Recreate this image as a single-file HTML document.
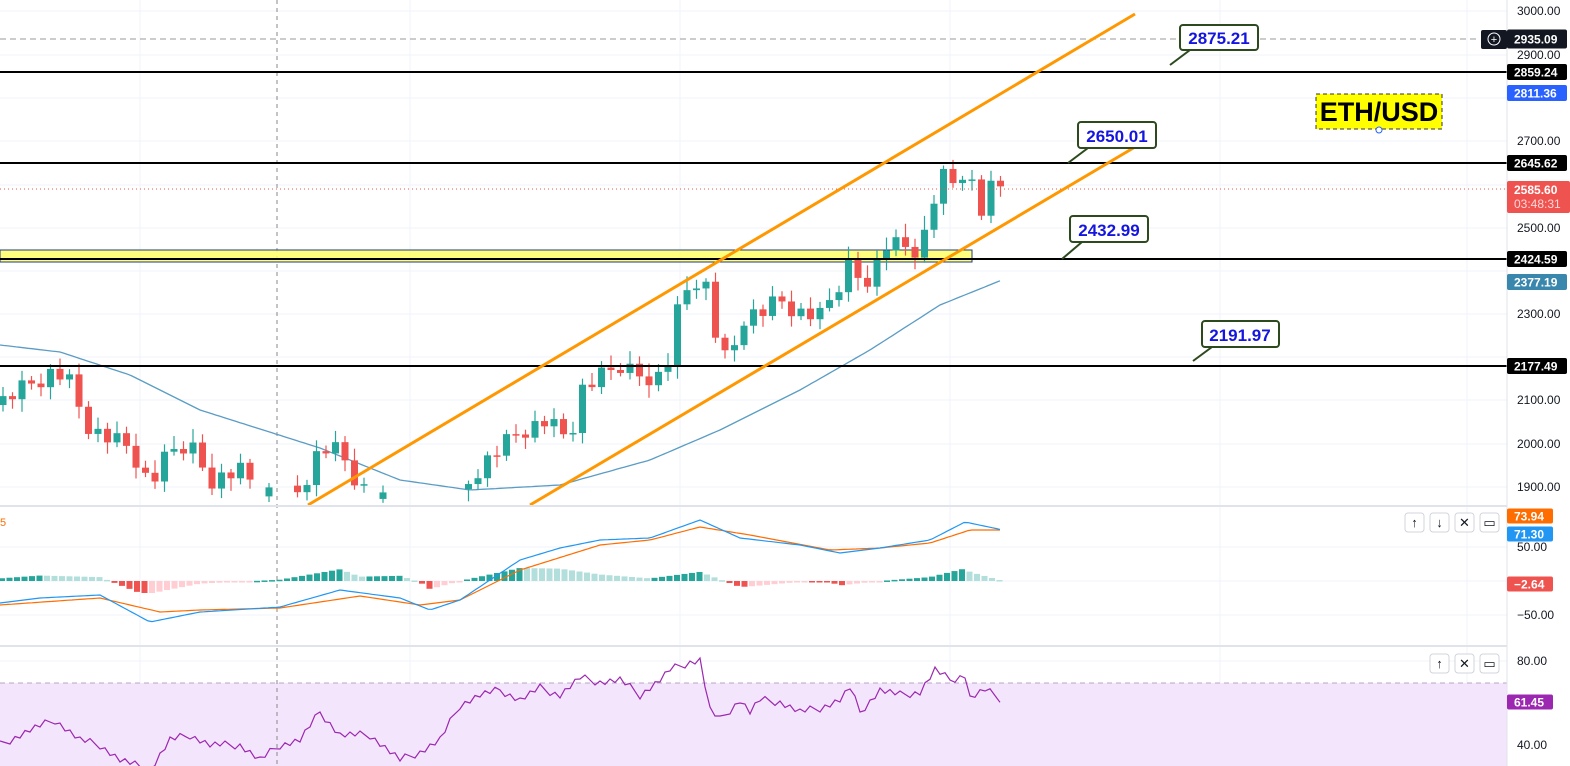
<!DOCTYPE html>
<html><head><meta charset="utf-8"><style>
body{margin:0;background:#fff;width:1570px;height:766px;overflow:hidden;font-family:"Liberation Sans",sans-serif}
svg{display:block}
</style></head><body>
<svg id="s" width="1570" height="766" xmlns="http://www.w3.org/2000/svg" font-family="Liberation Sans, sans-serif">
<rect width="1570" height="766" fill="#fff"/>
<g id="grid" stroke="#f0f3fa" stroke-width="1"></g>
<rect x="0" y="683" width="1507" height="83" fill="#f3e5fc"/>
<line x1="0" y1="683" x2="1507" y2="683" stroke="#b9a5c4" stroke-dasharray="5,4"/>
<line x1="277" y1="0" x2="277" y2="766" stroke="#888" stroke-dasharray="4,4" stroke-width="1"/>
<rect x="0" y="250" width="972" height="12" fill="#ffff66" fill-opacity="0.85" stroke="#1e3a8a" stroke-width="1"/>
<g id="ma"></g>
<g id="candles"></g>
<line x1="0" y1="72" x2="1507" y2="72" stroke="#000" stroke-width="2"/>
<line x1="0" y1="163" x2="1507" y2="163" stroke="#000" stroke-width="2"/>
<line x1="0" y1="259" x2="1507" y2="259" stroke="#000" stroke-width="2"/>
<line x1="0" y1="366" x2="1507" y2="366" stroke="#000" stroke-width="2"/>
<line x1="0" y1="39" x2="1480" y2="39" stroke="#999" stroke-dasharray="6,4"/>
<line x1="0" y1="189" x2="1507" y2="189" stroke="#ef5350" stroke-dasharray="1,3"/>
<line x1="308" y1="505" x2="1135" y2="14" stroke="#ff9800" stroke-width="3"/>
<line x1="530" y1="505" x2="1135" y2="147" stroke="#ff9800" stroke-width="3"/>
<rect x="0" y="505" width="1507" height="2" fill="#e0e3eb"/>
<rect x="0" y="645" width="1570" height="2" fill="#e0e3eb"/>
<g id="macd"></g>
<g id="rsi"></g>
<g font-weight="bold" font-size="17" fill="#1515e0">
<path d="M1170 65 L1190 50 L1200 50" stroke="#2d4a1e" stroke-width="2" fill="none"/>
<rect x="1180" y="25" width="78" height="25" rx="3" fill="#fff" stroke="#2d4a1e" stroke-width="2"/><text x="1219" y="44" text-anchor="middle">2875.21</text>
<path d="M1068 163 L1088 148 L1098 148" stroke="#2d4a1e" stroke-width="2" fill="none"/>
<rect x="1078" y="122" width="78" height="26" rx="3" fill="#fff" stroke="#2d4a1e" stroke-width="2"/><text x="1117" y="142" text-anchor="middle">2650.01</text>
<path d="M1062 259 L1082 242 L1092 242" stroke="#2d4a1e" stroke-width="2" fill="none"/>
<rect x="1070" y="216" width="78" height="26" rx="3" fill="#fff" stroke="#2d4a1e" stroke-width="2"/><text x="1109" y="236" text-anchor="middle">2432.99</text>
<path d="M1193 361 L1212 347 L1222 347" stroke="#2d4a1e" stroke-width="2" fill="none"/>
<rect x="1202" y="321" width="77" height="26" rx="3" fill="#fff" stroke="#2d4a1e" stroke-width="2"/><text x="1240" y="341" text-anchor="middle">2191.97</text>
</g>
<rect x="1316" y="94" width="126" height="35" fill="#ffff00" stroke="#333" stroke-dasharray="4,3"/>
<text x="1379" y="121" text-anchor="middle" font-size="27" font-weight="bold" fill="#000">ETH/USD</text>
<circle cx="1379" cy="130" r="3" fill="#fff" stroke="#2962ff"/>
<rect x="1507" y="0" width="63" height="766" fill="#fff"/>
<line x1="1507" y1="0" x2="1507" y2="766" stroke="#e0e3eb"/>
<g id="axis" font-size="12" fill="#131722"></g>
</svg>
<script>
const NS="http://www.w3.org/2000/svg";
function el(p,t,a,txt){const e=document.createElementNS(NS,t);for(const k in a)e.setAttribute(k,a[k]);if(txt!=null)e.textContent=txt;document.getElementById(p).appendChild(e);return e;}
function interp(pts,x){for(let i=0;i<pts.length-1;i++){if(x>=pts[i][0]&&x<=pts[i+1][0]){const t=(x-pts[i][0])/(pts[i+1][0]-pts[i][0]);return pts[i][1]+t*(pts[i+1][1]-pts[i][1]);}}return pts[pts.length-1][1];}
const Y=p=>11+(3000-p)*0.433;
[11,55,98,141,185,228,271,314,357,400,444,487,547,581,615,661,703,745].forEach(y=>el('grid','line',{x1:0,y1:y,x2:1507,y2:y}));
[140,410,680,950,1220,1467].forEach(x=>el('grid','line',{x1:x,y1:0,x2:x,y2:766}));
const ma=[[0,345],[60,352],[130,375],[200,410],[320,448],[400,480],[470,490],[560,485],[650,460],[720,430],[800,390],[870,350],[940,305],[1002,280]];
let d="";for(let x=0;x<=1002;x+=4)d+=(x?"L":"M")+x+" "+interp(ma,x).toFixed(1);
el('ma','path',{d:d,stroke:"#5b9cc4","stroke-width":1.3,fill:"none"});
const cl=[[0,2100],[30,2140],[55,2170],[70,2140],[85,2050],[100,2020],[130,1990],[150,1900],[170,1980],[190,2000],[210,1920],[240,1940],[260,1900],[280,1880],[300,1890],[320,1990],[340,1980],[360,1900],[380,1870],[400,1830],[430,1820],[460,1880],[480,1950],[500,1990],[520,2030],[545,2050],[570,2010],[580,2120],[600,2150],[620,2180],[640,2160],[660,2160],[670,2200],[680,2340],[700,2390],[710,2350],[720,2180],[735,2230],[745,2300],[760,2300],[780,2330],[800,2300],[820,2290],[840,2370],[850,2420],[860,2380],[870,2390],[885,2460],[900,2460],[920,2450],[930,2530],[940,2620],[955,2600],[970,2660],[975,2510],[985,2550],[995,2610],[1003,2585]];
let prev=2090,k=0;
for(let x=3;x<=1003;x+=9.5){k++;let c=interp(cl,x)+((k*37)%23-11)*2.2;let o=prev;const up=c>=o;
 const hi=Math.max(o,c)+8+(k*13)%25,lo=Math.min(o,c)-8-(k*7)%22;
 const col=up?"#26a69a":"#ef5350";
 if(Y(lo)<505){el('candles','line',{x1:x,y1:Y(hi),x2:x,y2:Math.min(Y(lo),505),stroke:col,"stroke-width":1.2});
 const t=Y(Math.max(o,c)),b=Math.min(Y(Math.min(o,c)),505);el('candles','rect',{x:x-3.5,y:t,width:7,height:Math.max(1.5,b-t),fill:col});}
 prev=c;}
const bl=[[0,603],[40,598],[100,595],[150,622],[200,612],[280,607],[340,590],[400,598],[430,610],[460,600],[520,560],[560,548],[600,540],[650,538],[700,520],[740,538],[800,545],[840,553],[880,548],[930,540],[965,522],[1003,530]];
const or=[[0,605],[100,598],[160,612],[200,610],[280,608],[360,596],[420,605],[460,600],[520,570],[600,545],[650,540],[700,527],[750,535],[830,550],[880,548],[930,543],[970,530],[1003,530]];
let ph=0;
for(let x=2;x<=1003;x+=7.5){let h=(interp(or,x)-interp(bl,x))*1.3;h=Math.max(-12,Math.min(16,h));const inc=h>=ph;
 const col=h>=0?(inc?"#26a69a":"#b2dfdb"):(inc?"#ffcdd2":"#ef5350");
 el('macd','rect',{x:x-3,y:h>=0?581-h:581,width:6,height:Math.max(1.5,Math.abs(h)),fill:col});ph=h;}
let db="",dor="";for(let x=0;x<=1003;x+=4){db+=(x?"L":"M")+x+" "+interp(bl,x).toFixed(1);dor+=(x?"L":"M")+x+" "+interp(or,x).toFixed(1);}
el('macd','path',{d:dor,stroke:"#ff6d00","stroke-width":1.2,fill:"none"});
el('macd','path',{d:db,stroke:"#2196f3","stroke-width":1.2,fill:"none"});
el('macd','text',{x:0,y:526,"font-size":11,fill:"#ff6d00"},"5");
const rs=[[0,745],[30,730],[55,720],[80,740],[100,745],[120,760],[150,770],[170,740],[190,735],[210,745],[240,745],[260,760],[280,745],[300,740],[320,712],[340,735],[370,735],[400,760],[420,752],[440,740],[460,705],[480,695],[500,690],[520,700],[540,688],[560,695],[580,678],[600,682],[620,680],[640,695],[660,680],[670,670],[690,662],[700,660],[710,710],[720,720],[740,700],[750,712],[760,700],[780,702],[800,712],[820,708],[840,700],[850,688],[860,712],[880,690],[900,695],[920,692],[935,670],[950,680],[965,675],[970,698],[985,690],[1003,700]];
let dr="";for(let x=0;x<=1003;x+=5)dr+=(x?"L":"M")+x+" "+(interp(rs,x)+((x*17)%9-4)).toFixed(1);
el('rsi','path',{d:dr,stroke:"#9c27b0","stroke-width":1.2,fill:"none"});
function btn(x,y,s){el('rsi','rect',{x:x,y:y,width:19,height:19,rx:3,fill:"#fff",stroke:"#d1d4dc"});el('rsi','text',{x:x+9.5,y:y+14,"text-anchor":"middle","font-size":13,fill:"#131722"},s);}
btn(1405,513,"↑");btn(1430,513,"↓");btn(1455,513,"✕");btn(1480,513,"▭");
btn(1430,654,"↑");btn(1455,654,"✕");btn(1480,654,"▭");
[[3000,11],[2900,55],[2700,141],[2500,228],[2300,314],[2100,400],[2000,444],[1900,487]].forEach(a=>{el('axis','text',{x:1517,y:a[1]+4},a[0].toFixed(2));});
el('axis','text',{x:1517,y:551},"50.00");el('axis','text',{x:1517,y:619},"−50.00");
el('axis','text',{x:1517,y:665},"80.00");el('axis','text',{x:1517,y:749},"40.00");
function tag(y,t,bg,h,w){el('axis','rect',{x:1507,y:y-(h||16)/2,width:w||60,height:h||16,rx:2,fill:bg});el('axis','text',{x:1514,y:y+4.5,fill:"#fff","font-weight":"bold","font-size":12},t);}
el('axis','rect',{x:1481,y:30,width:26,height:19,rx:2,fill:"#131722"});el('axis','circle',{cx:1494,cy:39,r:6,fill:"none",stroke:"#fff"});el('axis','text',{x:1494,y:43,fill:"#fff","text-anchor":"middle","font-size":11},"+");
tag(39,"2935.09","#131722",19);tag(72,"2859.24","#000",16);tag(93,"2811.36","#2962ff",16);tag(163,"2645.62","#000",16);
el('axis','rect',{x:1507,y:181,width:63,height:32,rx:2,fill:"#ef5350"});el('axis','text',{x:1514,y:194,fill:"#fff","font-weight":"bold"},"2585.60");el('axis','text',{x:1514,y:208,fill:"#ffd6d6"},"03:48:31");
tag(259,"2424.59","#000",16);tag(282,"2377.19","#3a87ad",16);tag(366,"2177.49","#000",16);
tag(516,"73.94","#ff6d00",15,46);tag(534,"71.30","#2196f3",15,46);tag(584,"−2.64","#ef5350",15,46);tag(702,"61.45","#9c27b0",15,46);
</script>
</body></html>
